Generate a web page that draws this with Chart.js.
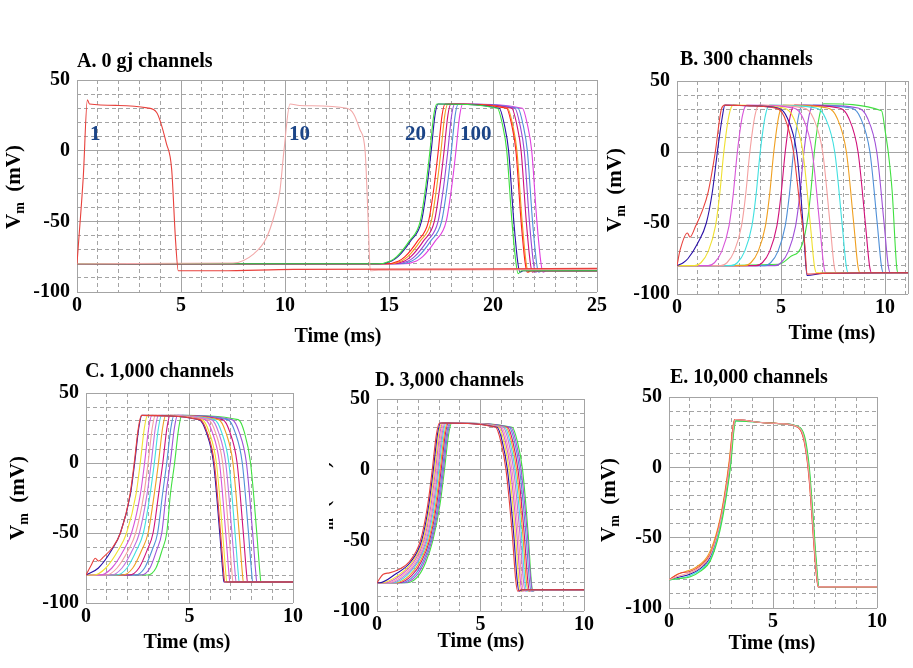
<!DOCTYPE html>
<html>
<head>
<meta charset="utf-8">
<script src="https://cdn.jsdelivr.net/npm/chart.js@4"></script>
<style>
  body { margin: 0; background: #fff; width: 913px; height: 668px; position: relative; overflow: hidden;
         font-family: "Liberation Serif", "Times New Roman", serif; font-weight: bold; }
  .box { position: absolute; }
  .t { position: absolute; font-size: 20px; line-height: 20px; white-space: nowrap; color: #000; }
  .xt { transform: translateX(-50%); }
  .yt { position: absolute; font-size: 21px; line-height: 21px; white-space: nowrap;
        transform: translate(-50%, -50%) rotate(-90deg); }
  .yt sub { font-size: 14px; vertical-align: -4px; }
  .lab { color: #1c4587; font-size: 21px; }
  .clip { position: absolute; overflow: hidden; }
</style>
</head>
<body>

<div class="t" style="left:77px;top:50px">A. 0 gj channels</div>
<div class="t" style="left:680px;top:48px">B. 300 channels</div>
<div class="t" style="left:85px;top:360px">C. 1,000 channels</div>
<div class="t" style="left:375px;top:369px">D. 3,000 channels</div>
<div class="t" style="left:670px;top:366px">E. 10,000 channels</div>

<div class="t xt" style="left:338px;top:325px">Time (ms)</div>
<div class="t xt" style="left:832px;top:322px">Time (ms)</div>
<div class="t xt" style="left:187px;top:631px">Time (ms)</div>
<div class="t xt" style="left:481px;top:630px">Time (ms)</div>
<div class="t xt" style="left:772px;top:632px">Time (ms)</div>

<div class="yt" style="left:16px;top:187px">V<sub>m</sub>&nbsp;&nbsp;(mV)</div>
<div class="yt" style="left:617px;top:190px">V<sub>m</sub>&nbsp;&nbsp;(mV)</div>
<div class="yt" style="left:20px;top:498px">V<sub>m</sub>&nbsp;&nbsp;(mV)</div>
<div class="clip" style="left:329px;top:440px;width:8px;height:130px">
  <div class="yt" style="left:-4px;top:63px">V<sub>m</sub>&nbsp;&nbsp;(mV)</div>
</div>
<div class="yt" style="left:611px;top:500px">V<sub>m</sub>&nbsp;&nbsp;(mV)</div>

<div class="t lab" style="left:90px;top:123px">1</div>
<div class="t lab" style="left:289px;top:123px">10</div>
<div class="t lab" style="left:405px;top:123px">20</div>
<div class="t lab" style="left:460px;top:123px">100</div>

<script>
// tick values (ms / mV)
const xTicks25 = [0,1,2,3,4,5,6,7,8,9,10,11,12,13,14,15,16,17,18,19,20,21,22,23,24,25];
const xTicksB = [0,1,2,3,4,5,6,7,8,9,10,11,11.1];
const xTicks10 = [0,1,2,3,4,5,6,7,8,9,10];
const yTicks = [-100,-90,-80,-70,-60,-50,-40,-30,-20,-10,0,10,20,30,40,50];

// A. 0 gj channels
const colorsA = ['#e8413c','#f2a8a8','#3ee03e','#2a10a8','#ff2020','#f0a020','#d0107a','#9848d8','#4f90d8','#e040e0'];
const tracesA = [
  [[0,-80],[0.06,-68],[0.3,-19],[0.5,36],[0.6,33],[2,32],[3.37,30.3],[3.83,27],[4.3,5],[4.55,-13],[4.74,-64],[4.87,-85],[6.9,-85],[10.4,-84],[18,-83.8],[25,-83.3]],
  [[0,-80],[7.5,-79.5],[8.5,-73],[9.1,-62],[9.5,-45],[9.75,-29],[9.95,0],[10.24,33],[10.7,32],[12.97,30],[13.3,26],[13.6,15],[13.85,0],[14.0,-50],[14.1,-85],[14.5,-84.5],[25,-84]],
  [[0,-80],[14.47,-80],[15.07,-78],[15.37,-75],[15.97,-64],[16.5,-50],[16.77,-25],[16.97,0],[17.15,25],[17.3,33],[20.21,30],[20.46,18],[20.66,0],[20.91,-50],[21.11,-80],[21.21,-87],[21.36,-85],[25,-85]],
  [[0,-80],[14.53,-80],[15.13,-78],[15.43,-75],[16.03,-64],[16.56,-50],[16.83,-25],[17.03,0],[17.21,25],[17.36,33],[20.3,30],[20.55,18],[20.75,0],[21.0,-50],[21.2,-80],[21.3,-86],[21.45,-85],[25,-85]],
  [[0,-80],[14.87,-80],[15.47,-78],[15.77,-75],[16.37,-64],[16.9,-50],[17.17,-25],[17.37,0],[17.55,25],[17.7,33],[20.65,30],[20.9,18],[21.1,0],[21.35,-50],[21.55,-80],[21.65,-86],[21.8,-85],[25,-85]],
  [[0,-80],[15.0,-80],[15.6,-78],[15.9,-75],[16.5,-64],[17.03,-50],[17.3,-25],[17.5,0],[17.68,25],[17.83,33],[20.7,30],[20.95,18],[21.15,0],[21.4,-50],[21.6,-80],[21.7,-86],[21.85,-85],[25,-85]],
  [[0,-80],[15.15,-80],[15.75,-78],[16.05,-75],[16.65,-64],[17.18,-50],[17.45,-25],[17.65,0],[17.83,25],[17.98,33],[20.9,30],[21.15,18],[21.35,0],[21.6,-50],[21.8,-80],[21.9,-86],[22.05,-85],[25,-85]],
  [[0,-80],[15.33,-80],[15.93,-78],[16.23,-75],[16.83,-64],[17.36,-50],[17.63,-25],[17.83,0],[18.01,25],[18.16,33],[21.05,30],[21.3,18],[21.5,0],[21.75,-50],[21.95,-80],[22.05,-86],[22.2,-85],[25,-85]],
  [[0,-80],[15.5,-80],[16.1,-78],[16.4,-75],[17.0,-64],[17.53,-50],[17.8,-25],[18.0,0],[18.18,25],[18.33,33],[21.2,30],[21.45,18],[21.65,0],[21.9,-50],[22.1,-80],[22.2,-86],[22.35,-85],[25,-85]],
  [[0,-80],[15.72,-80],[16.32,-78],[16.62,-75],[17.22,-64],[17.75,-50],[18.02,-25],[18.22,0],[18.4,25],[18.55,33],[21.41,30],[21.66,18],[21.86,0],[22.11,-50],[22.31,-80],[22.41,-86],[22.56,-85],[25,-85]]
];

// shared colour order for the cable traces (C and D)
const cableColors = ['#e8413c','#2a10a8','#f0e030','#d855d8','#f4a0a0','#c070e0','#40e0e0','#f0a020','#d0107a','#4f90d8','#a050d8','#40e040'];

// B. 300 channels
const tracesB = [
  [[0,-80],[0.15,-69],[0.5,-57],[0.62,-60],[0.9,-52],[1.2,-42],[1.5,-28],[1.84,0],[2.13,30],[2.3,33],[3.5,32.5],[4.7,31],[5.15,25],[5.6,0],[5.9,-37],[6.14,-65],[6.25,-86],[7,-85.5],[11.1,-85]],
  [[0,-80],[0.3,-78],[0.53,-75],[1.0,-64],[1.41,-50],[1.7,-28],[1.94,0],[2.18,25],[2.3,33],[3.5,32.5],[4.85,31],[5.3,24],[5.75,0],[5.95,-30],[6.1,-60],[6.25,-87],[7,-85.5],[11.1,-85]],
  [[0,-80],[0.85,-80],[1.15,-78],[1.5,-70],[1.85,-52],[2.05,-30],[2.25,0],[2.5,26],[2.7,33],[4,32.5],[5.15,31],[5.6,24],[6.05,0],[6.4,-50],[6.6,-80],[6.7,-85],[11.1,-85]],
  [[0,-80],[1.5,-80],[1.8,-78],[2.15,-70],[2.5,-52],[2.7,-30],[2.9,0],[3.15,26],[3.35,33],[5.6,31],[6.05,24],[6.5,0],[6.85,-50],[7.05,-80],[7.15,-85],[11.1,-85]],
  [[0,-80],[2.1,-80],[2.4,-78],[2.75,-70],[3.1,-52],[3.3,-30],[3.5,0],[3.75,26],[3.95,33],[6.1,31],[6.55,24],[7.0,0],[7.35,-50],[7.55,-80],[7.65,-85],[11.1,-85]],
  [[0,-80],[2.6,-80],[2.9,-78],[3.25,-70],[3.6,-52],[3.8,-30],[4.0,0],[4.25,26],[4.45,33],[6.68,31],[7.13,24],[7.58,0],[7.93,-50],[8.13,-80],[8.23,-85],[11.1,-85]],
  [[0,-80],[3.25,-80],[3.55,-78],[3.9,-70],[4.25,-52],[4.45,-30],[4.65,0],[4.9,26],[5.1,33],[7.24,31],[7.69,24],[8.14,0],[8.49,-50],[8.69,-80],[8.79,-85],[11.1,-85]],
  [[0,-80],[3.8,-80],[4.1,-78],[4.45,-70],[4.8,-52],[5.0,-30],[5.2,0],[5.45,26],[5.65,33],[7.8,31],[8.25,24],[8.7,0],[9.05,-50],[9.25,-80],[9.35,-85],[11.1,-85]],
  [[0,-80],[4.2,-80],[4.5,-78],[4.85,-70],[5.2,-52],[5.4,-30],[5.6,0],[5.85,26],[6.05,33],[8.37,31],[8.82,24],[9.27,0],[9.62,-50],[9.82,-80],[9.92,-85],[11.1,-85]],
  [[0,-80],[4.7,-80],[5.0,-78],[5.35,-70],[5.7,-52],[5.9,-30],[6.1,0],[6.35,26],[6.55,33],[8.7,31],[9.15,24],[9.6,0],[9.95,-50],[10.15,-80],[10.25,-85],[11.1,-85]],
  [[0,-80],[4.9,-79],[5.42,-74],[6.02,-65],[6.3,-45],[6.45,-25],[6.6,0],[6.85,26],[7.05,34],[9.83,29],[10.0,15],[10.15,0],[10.34,-28],[10.55,-80],[10.62,-85],[11.1,-85]]
];
const colorsB = ['#e8413c','#2a10a8','#f0e030','#d855d8','#f4a0a0','#40e0e0','#f0a020','#d0107a','#4f90d8','#a050d8','#40e040'];

// C. 1,000 channels
const tracesC = [
  [[0,-80],[0.25,-73],[0.45,-68],[0.6,-70],[0.85,-67],[1.3,-60],[1.66,-50],[2.13,-22],[2.33,0],[2.53,25],[2.68,34],[5.5,31],[5.85,22],[6.2,0],[6.5,-50],[6.65,-78],[6.7,-85],[10,-85]],
  [[0,-80],[0.6,-75],[1.25,-62],[1.66,-50],[2.15,-22],[2.35,0],[2.55,25],[2.7,34],[5.46,31],[5.81,22],[6.16,0],[6.46,-50],[6.61,-78],[6.66,-85],[10,-85]],
  [[0,-80],[0.375,-80],[0.955,-75],[1.57,-62],[1.96,-50],[2.42,-22],[2.62,0],[2.82,25],[2.97,34],[5.6,31],[5.95,22],[6.3,0],[6.6,-50],[6.75,-78],[6.8,-85],[10,-85]],
  [[0,-80],[0.69,-80],[1.25,-75],[1.83,-62],[2.2,-50],[2.63,-22],[2.83,0],[3.03,25],[3.18,34],[5.75,31],[6.1,22],[6.45,0],[6.75,-50],[6.9,-78],[6.95,-85],[10,-85]],
  [[0,-80],[0.97,-80],[1.5,-75],[2.05,-62],[2.4,-50],[2.8,-22],[3.0,0],[3.2,25],[3.35,34],[5.9,31],[6.25,22],[6.6,0],[6.9,-50],[7.05,-78],[7.1,-85],[10,-85]],
  [[0,-80],[1.22,-80],[1.74,-75],[2.25,-62],[2.58,-50],[2.95,-22],[3.15,0],[3.35,25],[3.5,34],[6.05,31],[6.4,22],[6.75,0],[7.05,-50],[7.2,-78],[7.25,-85],[10,-85]],
  [[0,-80],[1.48,-80],[1.98,-75],[2.45,-62],[2.77,-50],[3.1,-22],[3.3,0],[3.5,25],[3.65,34],[6.2,31],[6.55,22],[6.9,0],[7.2,-50],[7.35,-78],[7.4,-85],[10,-85]],
  [[0,-80],[1.78,-80],[2.26,-75],[2.7,-62],[3.0,-50],[3.3,-22],[3.5,0],[3.7,25],[3.85,34],[6.4,31],[6.75,22],[7.1,0],[7.4,-50],[7.55,-78],[7.6,-85],[10,-85]],
  [[0,-80],[2.1,-80],[2.56,-75],[2.96,-62],[3.24,-50],[3.51,-22],[3.71,0],[3.91,25],[4.06,34],[6.6,31],[6.95,22],[7.3,0],[7.6,-50],[7.75,-78],[7.8,-85],[10,-85]],
  [[0,-80],[2.39,-80],[2.83,-75],[3.2,-62],[3.46,-50],[3.7,-22],[3.9,0],[4.1,25],[4.25,34],[6.85,31],[7.2,22],[7.55,0],[7.85,-50],[8.0,-78],[8.05,-85],[10,-85]],
  [[0,-80],[2.67,-80],[3.09,-75],[3.42,-62],[3.66,-50],[3.87,-22],[4.07,0],[4.27,25],[4.42,34],[7.05,31],[7.4,22],[7.75,0],[8.05,-50],[8.2,-78],[8.25,-85],[10,-85]],
  [[0,-80],[2.98,-80],[3.38,-75],[3.68,-62],[3.9,-50],[4.08,-22],[4.28,0],[4.48,25],[4.63,34],[7.35,31],[7.65,22],[7.95,0],[8.25,-50],[8.4,-78],[8.45,-85],[10,-85]]
];

// D. 3,000 channels
const tracesD = [
  [[0,-80],[0.3,-74],[0.6,-73],[1.0,-71],[1.57,-65],[2.1,-50],[2.45,-25],[2.67,0],[2.87,25],[3.02,33],[5.73,30],[5.98,20],[6.23,0],[6.53,-45],[6.7,-78],[6.8,-86],[6.95,-85],[10,-85]],
  [[0,-80],[0.13,-80],[0.88,-74],[1.64,-65],[2.16,-50],[2.5,-25],[2.72,0],[2.92,25],[3.07,33],[5.8,30],[6.05,20],[6.3,0],[6.6,-45],[6.77,-78],[6.86,-86],[7.02,-85],[10,-85]],
  [[0,-80],[0.27,-80],[1.0,-75],[1.72,-65],[2.22,-50],[2.56,-25],[2.78,0],[2.98,25],[3.13,33],[5.88,30],[6.13,20],[6.38,0],[6.68,-45],[6.85,-78],[6.94,-86],[7.1,-85],[10,-85]],
  [[0,-80],[0.4,-80],[1.11,-75],[1.79,-65],[2.27,-50],[2.61,-25],[2.83,0],[3.03,25],[3.18,33],[5.95,30],[6.2,20],[6.45,0],[6.75,-45],[6.92,-78],[7.01,-86],[7.17,-85],[10,-85]],
  [[0,-80],[0.54,-80],[1.23,-75],[1.87,-65],[2.33,-50],[2.67,-25],[2.89,0],[3.09,25],[3.24,33],[6.02,30],[6.27,20],[6.52,0],[6.82,-45],[6.99,-78],[7.08,-86],[7.24,-85],[10,-85]],
  [[0,-80],[0.67,-80],[1.34,-75],[1.94,-65],[2.38,-50],[2.72,-25],[2.94,0],[3.14,25],[3.29,33],[6.1,30],[6.35,20],[6.6,0],[6.9,-45],[7.07,-78],[7.16,-86],[7.32,-85],[10,-85]],
  [[0,-80],[0.79,-80],[1.44,-75],[2.0,-65],[2.43,-50],[2.77,-25],[2.99,0],[3.19,25],[3.34,33],[6.17,30],[6.42,20],[6.67,0],[6.97,-45],[7.14,-78],[7.23,-86],[7.39,-85],[10,-85]],
  [[0,-80],[0.93,-80],[1.56,-75],[2.08,-65],[2.49,-50],[2.83,-25],[3.05,0],[3.25,25],[3.4,33],[6.24,30],[6.49,20],[6.74,0],[7.04,-45],[7.21,-78],[7.3,-86],[7.46,-85],[10,-85]],
  [[0,-80],[1.06,-80],[1.67,-75],[2.15,-65],[2.54,-50],[2.88,-25],[3.1,0],[3.3,25],[3.45,33],[6.31,30],[6.56,20],[6.81,0],[7.11,-45],[7.28,-78],[7.37,-86],[7.53,-85],[10,-85]],
  [[0,-80],[1.2,-80],[1.79,-75],[2.23,-65],[2.6,-50],[2.94,-25],[3.16,0],[3.36,25],[3.51,33],[6.39,30],[6.64,20],[6.89,0],[7.19,-45],[7.36,-78],[7.45,-86],[7.61,-85],[10,-85]],
  [[0,-80],[1.33,-80],[1.9,-75],[2.3,-65],[2.65,-50],[2.99,-25],[3.21,0],[3.41,25],[3.56,33],[6.46,30],[6.71,20],[6.96,0],[7.26,-45],[7.43,-78],[7.52,-86],[7.68,-85],[10,-85]],
  [[0,-80],[1.46,-80],[2.01,-75],[2.37,-65],[2.7,-50],[3.04,-25],[3.26,0],[3.46,25],[3.61,33],[6.53,30],[6.78,20],[7.03,0],[7.3,-45],[7.45,-78],[7.52,-86],[7.68,-85],[10,-85]]
];

// E. 10,000 channels
const colorsE = ['#f4a0a0','#e8413c','#40e040','#40e0e0','#f0a020','#2a10a8'];
const tracesE = [
  [[0,-80],[0.5,-77],[1.0,-75],[1.5,-71],[1.97,-63],[2.4,-43],[2.7,-20],[2.92,3],[3.08,26],[3.18,34],[4.3,32],[5.35,31],[6.15,29],[6.47,22],[6.66,5],[6.76,-9],[6.9,-37],[7.03,-64],[7.19,-85],[10,-85]],
  [[0,-80],[0.3,-77],[0.6,-75],[1.0,-74],[1.5,-70],[1.97,-62],[2.38,-43],[2.68,-20],[2.9,3],[3.06,26],[3.16,34],[4.3,32],[5.35,31],[6.12,29],[6.44,22],[6.64,5],[6.74,-9],[6.88,-37],[7.01,-64],[7.17,-85],[10,-85]],
  [[0,-80],[0.5,-79],[1.0,-78],[1.5,-74],[2.0,-66],[2.45,-45],[2.75,-21],[2.97,2],[3.12,26],[3.22,33],[4.3,32],[5.35,31],[6.2,29],[6.52,22],[6.71,5],[6.8,-9],[6.94,-37],[7.07,-64],[7.22,-85],[10,-85]],
  [[0,-80],[0.5,-79],[1.0,-77],[1.5,-73],[2.0,-65],[2.43,-44],[2.73,-21],[2.95,2],[3.1,26],[3.2,33],[4.3,32],[5.35,31],[6.18,29],[6.5,22],[6.69,5],[6.78,-9],[6.92,-37],[7.05,-64],[7.2,-85],[10,-85]],
  [[0,-80],[0.4,-76],[0.8,-74],[1.3,-71],[1.9,-62],[2.35,-43],[2.66,-20],[2.88,3],[3.05,26],[3.15,34],[4.3,32],[5.35,31],[6.13,29],[6.45,22],[6.65,5],[6.75,-9],[6.89,-37],[7.02,-64],[7.18,-85],[10,-85]],
  [[0,-80],[0.5,-78],[1.0,-76],[1.5,-72],[1.98,-64],[2.42,-44],[2.72,-20],[2.94,3],[3.09,26],[3.19,34],[4.3,32],[5.35,31],[6.16,29],[6.48,22],[6.67,5],[6.77,-9],[6.91,-37],[7.04,-64],[7.2,-85],[10,-85]]
];

// plot-area placement of each panel (page pixels)
const panels = [
  { L: 77,  T: 75,  R: 597, B: 292, xmax: 25,   xTicks: xTicks25, traces: tracesA, colors: colorsA },
  { L: 677, T: 76,  R: 908, B: 294, xmax: 11.1, xTicks: xTicksB,  traces: tracesB, colors: colorsB },
  { L: 86,  T: 388, R: 293, B: 603, xmax: 10,   xTicks: xTicks10, traces: tracesC, colors: cableColors },
  { L: 377, T: 394, R: 584, B: 611, xmax: 10,   xTicks: xTicks10, traces: tracesD, colors: cableColors },
  { L: 669, T: 392, R: 877, B: 608, xmax: 10,   xTicks: xTicks10, traces: tracesE, colors: colorsE }
];

const tickFont = { family: '"Liberation Serif", "Times New Roman", serif', size: 20, weight: 'bold' };
const GRID = '#a4a4a4';
const padTop = 14, padRight = 18, yW = 62, xH = 34;

function makePanel(p) {
  const w = (p.R - p.L) + yW + padRight;
  const h = (p.B - p.T) + padTop + xH;
  const box = document.createElement('div');
  box.className = 'box';
  box.style.left = (p.L - yW) + 'px';
  box.style.top = (p.T - padTop) + 'px';
  const c = document.createElement('canvas');
  c.width = w; c.height = h;
  box.appendChild(c);
  document.body.insertBefore(box, document.body.firstChild);

  const xMajor = v => Math.abs(v % 5) < 1e-9 || Math.abs(v - p.xmax) < 1e-9;
  const yMajor = v => Math.abs(v % 50) < 1e-9;

  new Chart(c, {
    type: 'line',
    data: {
      datasets: p.traces.map((tr, i) => ({
        data: tr.map(([x, y]) => ({ x, y })),
        borderColor: p.colors[i],
        borderWidth: 1.1,
        pointRadius: 0,
        cubicInterpolationMode: 'monotone',
        fill: false
      }))
    },
    options: {
      responsive: false,
      animation: false,
      events: [],
      layout: { padding: { top: padTop, right: padRight, left: 0, bottom: 0 } },
      plugins: { legend: { display: false }, tooltip: { enabled: false } },
      scales: {
        x: {
          type: 'linear', min: 0, max: p.xmax,
          afterBuildTicks: s => { s.ticks = p.xTicks.map(v => ({ value: v })); },
          afterFit: s => { s.height = xH; },
          ticks: { autoSkip: false, maxRotation: 0, padding: 2, color: '#000', font: tickFont,
                   callback: v => (Math.abs(v % 5) < 1e-9 ? String(v) : '') },
          grid: { color: GRID, lineWidth: 1, drawTicks: false },
          border: { display: false, dash: ctx => (ctx.tick && !xMajor(ctx.tick.value) ? [4, 3] : []) }
        },
        y: {
          min: -100, max: 50,
          afterBuildTicks: s => { s.ticks = yTicks.map(v => ({ value: v })); },
          afterFit: s => { s.width = yW; },
          ticks: { autoSkip: false, padding: 7, color: '#000', font: tickFont,
                   callback: v => (yMajor(v) ? String(v) : '') },
          grid: { color: GRID, lineWidth: 1, drawTicks: false },
          border: { display: false, dash: ctx => (ctx.tick && !yMajor(ctx.tick.value) ? [4, 3] : []) }
        }
      }
    }
  });
}

panels.forEach(makePanel);
</script>
</body>
</html>
